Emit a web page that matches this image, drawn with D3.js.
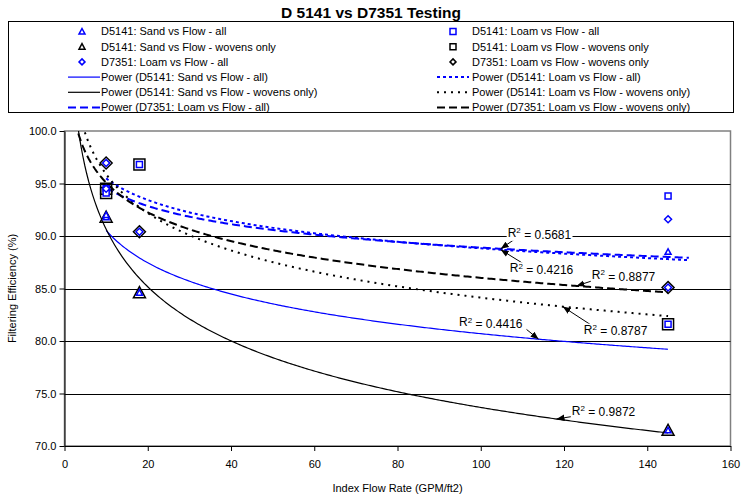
<!DOCTYPE html>
<html lang="en">
<head>
<meta charset="UTF-8">
<script src="https://cdn.jsdelivr.net/npm/d3@7/dist/d3.min.js"></script>
<title>D 5141 vs D7351 Testing</title>
<style>
    body { margin: 0; background: #fff; }
    text { font-family: "Liberation Sans", Arial, sans-serif; fill: #000; }
</style>
</head>
<body>
<div id="chart"></div>
<script>
    /*------------------- data ---------------------------------------*/
    // flow rate (GPM/ft2) and filtering efficiency (%) per series
    const sandAllFlow = [10, 10, 18, 145, 145];
    const sandAllEff = [91.8, 92.0, 84.6, 71.5, 88.5];
    const sandWovFlow = [10, 18, 145];
    const sandWovEff = [91.8, 84.6, 71.5];
    const loamAllFlow = [10, 10, 18, 145, 145];
    const loamAllEff = [94.5, 94.1, 96.8, 93.8, 81.6];
    const loamWovFlow = [10, 10, 18, 145];
    const loamWovEff = [94.5, 94.1, 96.8, 81.6];
    const d7351AllFlow = [10, 10, 18, 145, 145];
    const d7351AllEff = [96.95, 94.5, 90.4, 91.6, 85.1];
    const d7351WovFlow = [10, 18, 145];
    const d7351WovEff = [96.95, 90.4, 85.1];

    const seriesNames = [
        "D5141: Sand vs Flow - all",
        "D5141: Loam vs Flow - all",
        "D5141: Sand vs Flow - wovens only",
        "D5141: Loam vs Flow - wovens only",
        "D7351: Loam vs Flow - all",
        "D7351: Loam vs Flow - wovens only"
    ];
    // R squared values as printed on the chart
    const r2Values = ["0.4416", "0.4216", "0.9872", "0.8787", "0.5681", "0.8877"];
    // trendline span (with forecast) per series
    const trendFrom = [10, 10, 2, 2, 10, 2];
    const trendTo = [145, 150, 145, 145, 150, 145];

    const xTicks = [0, 20, 40, 60, 80, 100, 120, 140, 160];
    const yTicks = [70, 75, 80, 85, 90, 95, 100];

    /*------------------- styles --------------------*/
    const BLUE = "#0000ff";
    const styles = [
        { marker: "triangle", color: BLUE, size: 6, dash: null, width: 1.2 },
        { marker: "square", color: BLUE, size: 6, dash: "3,3", width: 2 },
        { marker: "triangle", color: "#000", size: 12, dash: null, width: 1.2 },
        { marker: "square", color: "#000", size: 11, dash: "2,5", width: 2 },
        { marker: "diamond", color: BLUE, size: 7, dash: "8,4", width: 2 },
        { marker: "diamond", color: "#000", size: 12, dash: "8,4", width: 2 }
    ];

    // R² labels: label centre, arrow start and arrow tip (flow value on the curve)
    const r2Layout = [
        { lx: 102.4, ly: 81.8, fx: 111.0, fy: 81.1, tip: 113.9 },
        { lx: 114.6, ly: 86.95, fx: 110.1, fy: 87.4, tip: 104.8 },
        { lx: 129.5, ly: 73.4, fx: 124.2, fy: 72.95, tip: 118.2 },
        { lx: 132.4, ly: 81.1, fx: 126.6, fy: 81.5, tip: 119.7 },
        { lx: 114.1, ly: 90.3, fx: 108.9, fy: 89.9, tip: 104.8 },
        { lx: 134.3, ly: 86.3, fx: 127.3, fy: 85.8, tip: 123.0 }
    ];

    const flows = [sandAllFlow, loamAllFlow, sandWovFlow, loamWovFlow, d7351AllFlow, d7351WovFlow];
    const effs = [sandAllEff, loamAllEff, sandWovEff, loamWovEff, d7351AllEff, d7351WovEff];

    const series = seriesNames.map((name, i) => ({
        name: name,
        points: flows[i].map((f, j) => ({ x: f, y: effs[i][j] })),
        from: trendFrom[i],
        to: trendTo[i],
        r2: r2Values[i],
        style: styles[i],
        layout: r2Layout[i]
    }));

    /*------------------- helpers --------------------*/
    // Excel-like power trendline: least squares on ln(x), ln(y)
    function powerFit(points) {
        const lx = points.map(p => Math.log(p.x));
        const ly = points.map(p => Math.log(p.y));
        const mx = d3.mean(lx), my = d3.mean(ly);
        let sxy = 0, sxx = 0;
        lx.forEach((v, i) => { sxy += (v - mx) * (ly[i] - my); sxx += (v - mx) * (v - mx); });
        const b = sxy / sxx;
        const a = Math.exp(my - b * mx);
        return t => a * Math.pow(t, b);
    }

    function markerPath(type, s) {
        const h = s / 2;
        if (type === "triangle") return `M0,${-h}L${h},${h * 0.85}L${-h},${h * 0.85}Z`;
        if (type === "square") return `M${-h},${-h}H${h}V${h}H${-h}Z`;
        return `M0,${-h}L${h},0L0,${h}L${-h},0Z`;
    }

    /*------------------- svg setup --------------------*/
    const W = 742, H = 496;
    const plot = { left: 64.5, right: 730.5, top: 131, bottom: 446 };

    const svg = d3.select("#chart").append("svg")
        .attr("width", W)
        .attr("height", H);

    const x = d3.scaleLinear().domain([0, 160]).range([plot.left, plot.right]);
    const y = d3.scaleLinear().domain([70, 100]).range([plot.bottom, plot.top]);

    svg.append("defs").append("clipPath").attr("id", "plotclip")
        .append("rect")
        .attr("x", plot.left).attr("y", plot.top)
        .attr("width", plot.right - plot.left).attr("height", plot.bottom - plot.top);

    svg.append("defs").append("marker")
        .attr("id", "arrow")
        .attr("viewBox", "0 0 10 10")
        .attr("refX", 10).attr("refY", 5)
        .attr("markerWidth", 8).attr("markerHeight", 8)
        .attr("markerUnits", "userSpaceOnUse")
        .attr("orient", "auto")
        .append("path")
        .attr("d", "M0,1L10,5L0,9Z")
        .attr("fill", "#000");

    // title
    svg.append("text")
        .attr("x", 371).attr("y", 18)
        .attr("text-anchor", "middle")
        .style("font-size", "15.5px")
        .style("font-weight", "bold")
        .text("D 5141 vs D7351 Testing");

    // plot border + gridlines
    svg.append("rect")
        .attr("x", plot.left).attr("y", plot.top)
        .attr("width", plot.right - plot.left).attr("height", plot.bottom - plot.top)
        .attr("fill", "none")
        .attr("stroke", "#808080")
        .attr("stroke-width", 1.5);

    svg.append("g").selectAll("line")
        .data(yTicks.filter(v => v > 70 && v < 100))
        .enter().append("line")
        .attr("x1", plot.left).attr("x2", plot.right)
        .attr("y1", d => Math.round(y(d)) + 0.5).attr("y2", d => Math.round(y(d)) + 0.5)
        .attr("stroke", "#000")
        .attr("stroke-width", 1);

    // axes
    const xAxis = svg.append("g")
        .attr("transform", `translate(0,${plot.bottom})`)
        .call(d3.axisBottom(x).tickValues(xTicks).tickSize(5).tickSizeOuter(0).tickPadding(9));
    const yAxis = svg.append("g")
        .attr("transform", `translate(${plot.left},0)`)
        .call(d3.axisLeft(y).tickValues(yTicks).tickFormat(d3.format(".1f")).tickSize(5).tickSizeOuter(0));
    [xAxis, yAxis].forEach(g => {
        g.selectAll("text").style("font-size", "11px").style("font-family", '"Liberation Sans", Arial, sans-serif');
        g.selectAll("path, line").attr("stroke", "#000");
    });

    svg.append("text")
        .attr("x", (plot.left + plot.right) / 2).attr("y", 492)
        .attr("text-anchor", "middle")
        .style("font-size", "11px")
        .text("Index Flow Rate (GPM/ft2)");

    svg.append("text")
        .attr("transform", `translate(16,${(plot.top + plot.bottom) / 2}) rotate(-90)`)
        .attr("text-anchor", "middle")
        .style("font-size", "11px")
        .text("Filtering Efficiency (%)");

    /*------------------- trendlines --------------------*/
    const curveLayer = svg.append("g").attr("clip-path", "url(#plotclip)");
    const line = d3.line().x(d => x(d.x)).y(d => y(d.y));

    series.forEach(s => {
        s.fit = powerFit(s.points);
        const samples = d3.range(0, 301).map(i => {
            const t = s.from + (s.to - s.from) * i / 300;
            return { x: t, y: s.fit(t) };
        });
        curveLayer.append("path")
            .datum(samples)
            .attr("d", line)
            .attr("fill", "none")
            .attr("stroke", s.style.color)
            .attr("stroke-width", s.style.width)
            .attr("stroke-dasharray", s.style.dash);
    });

    /*------------------- markers --------------------*/
    // black (wovens) markers first, the small blue ones sit inside them
    const markerOrder = [2, 3, 5, 0, 1, 4];
    markerOrder.forEach(i => {
        const s = series[i];
        svg.append("g").selectAll("path")
            .data(s.points)
            .enter().append("path")
            .attr("transform", d => `translate(${x(d.x)},${y(d.y)})`)
            .attr("d", markerPath(s.style.marker, s.style.size))
            .attr("fill", s.style.color === BLUE ? "#fff" : "none")
            .attr("stroke", s.style.color)
            .attr("stroke-width", 1.5);
    });

    /*------------------- R² labels --------------------*/
    const labelLayer = svg.append("g");
    series.forEach(s => {
        const L = s.layout;
        labelLayer.append("line")
            .attr("x1", x(L.fx)).attr("y1", y(L.fy))
            .attr("x2", x(L.tip)).attr("y2", y(s.fit(L.tip)))
            .attr("stroke", "#000")
            .attr("stroke-width", 1)
            .attr("marker-end", "url(#arrow)");
    });
    series.forEach(s => {
        const L = s.layout;
        const g = labelLayer.append("g");
        const bg = g.append("rect").attr("fill", "#fff");
        const t = g.append("text")
            .attr("x", x(L.lx)).attr("y", y(L.ly))
            .attr("dy", "0.35em")
            .attr("text-anchor", "middle")
            .style("font-size", "12px");
        t.append("tspan").text("R");
        t.append("tspan").attr("dy", "-0.45em").style("font-size", "8px").text("2");
        t.append("tspan").attr("dy", "0.45em").text(" = " + s.r2);
        const bb = t.node().getBBox();
        bg.attr("x", bb.x - 1).attr("y", bb.y + 1).attr("width", bb.width + 2).attr("height", bb.height - 2);
    });

    /*------------------- legend --------------------*/
    const legend = svg.append("g");
    legend.append("rect")
        .attr("x", 8.5).attr("y", 21.5)
        .attr("width", 725).attr("height", 91)
        .attr("fill", "#fff")
        .attr("stroke", "#000")
        .attr("stroke-width", 1);

    const colMarker = [82, 453], colLine = [[68, 100], [437, 469]], colText = [101, 472];
    const rowY = i => 31.5 + 15.2 * i;

    const legendItems = [];
    series.forEach(s => legendItems.push({ kind: "marker", s: s, label: s.name }));
    series.forEach(s => legendItems.push({ kind: "line", s: s, label: "Power (" + s.name + ")" }));

    legendItems.forEach((item, k) => {
        const col = k % 2, row = Math.floor(k / 2);
        const cy = rowY(row);
        if (item.kind === "marker") {
            legend.append("path")
                .attr("transform", `translate(${colMarker[col]},${cy})`)
                .attr("d", markerPath(item.s.style.marker, 6))
                .attr("fill", "#fff")
                .attr("stroke", item.s.style.color)
                .attr("stroke-width", 1.5);
        } else {
            legend.append("line")
                .attr("x1", colLine[col][0]).attr("x2", colLine[col][1])
                .attr("y1", cy).attr("y2", cy)
                .attr("stroke", item.s.style.color)
                .attr("stroke-width", item.s.style.width)
                .attr("stroke-dasharray", item.s.style.dash);
        }
        legend.append("text")
            .attr("x", colText[col]).attr("y", cy)
            .attr("dy", "0.35em")
            .style("font-size", "11px")
            .text(item.label);
    });
</script>
</body>
</html>
